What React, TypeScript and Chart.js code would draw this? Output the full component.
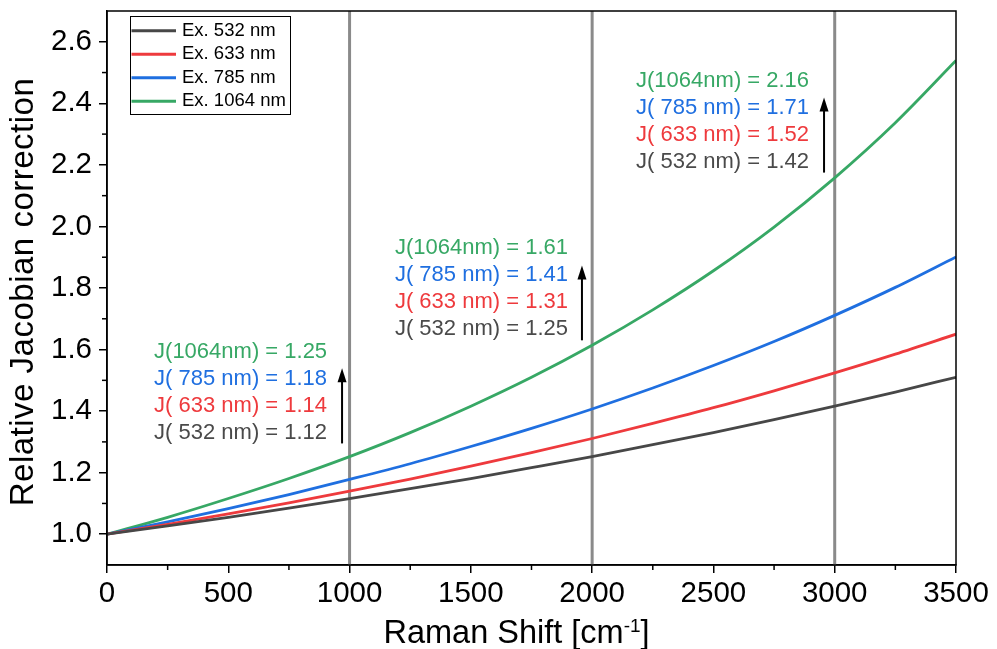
import React, { useEffect, useRef } from "react";
import { Chart, registerables } from "chart.js";

Chart.register(...registerables);

// ---- data ----
const ramanShift = [0, 250, 500, 750, 1000, 1250, 1500, 1750, 2000, 2250, 2500, 2750, 3000, 3250, 3500];
const j532 = [1.0, 1.027, 1.055, 1.085, 1.116, 1.148, 1.181, 1.216, 1.252, 1.291, 1.330, 1.372, 1.416, 1.462, 1.510];
const j633 = [1.0, 1.032, 1.066, 1.102, 1.140, 1.179, 1.221, 1.265, 1.311, 1.360, 1.411, 1.466, 1.524, 1.585, 1.650];
const j785 = [1.0, 1.040, 1.083, 1.129, 1.178, 1.229, 1.285, 1.344, 1.407, 1.475, 1.548, 1.626, 1.711, 1.802, 1.901];
const j1064 = [1.0, 1.055, 1.116, 1.181, 1.252, 1.330, 1.416, 1.510, 1.614, 1.729, 1.856, 1.998, 2.158, 2.337, 2.539];

const seriesLabels = ["Ex. 532 nm", "Ex. 633 nm", "Ex. 785 nm", "Ex. 1064 nm"];
const seriesColors = ["#474747", "#ee3a3d", "#1f6fe0", "#37a865"];

const xTicks = [0, 500, 1000, 1500, 2000, 2500, 3000, 3500];
const xMinorTicks = [250, 750, 1250, 1750, 2250, 2750, 3250];
const yTicks = [1.0, 1.2, 1.4, 1.6, 1.8, 2.0, 2.2, 2.4, 2.6];
const yMinorTicks = [1.1, 1.3, 1.5, 1.7, 1.9, 2.1, 2.3, 2.5];
const markerLines = [1000, 2000, 3000];

const notes1000 = ["J(1064nm) = 1.25", "J( 785 nm) = 1.18", "J( 633 nm) = 1.14", "J( 532 nm) = 1.12"];
const notes2000 = ["J(1064nm) = 1.61", "J( 785 nm) = 1.41", "J( 633 nm) = 1.31", "J( 532 nm) = 1.25"];
const notes3000 = ["J(1064nm) = 2.16", "J( 785 nm) = 1.71", "J( 633 nm) = 1.52", "J( 532 nm) = 1.42"];
const noteColors = ["#37a865", "#1f6fe0", "#ee3a3d", "#4a4a4a"];

const xTitle = "Raman Shift [cm";
const xTitleSup = "-1";
const xTitleEnd = "]";
const yTitle = "Relative Jacobian correction";

const FONT = "'Liberation Sans', Arial, sans-serif";

// annotation placement (data coordinates of text start / arrow)
const noteBlocks = [
  { lines: notes1000, tx: 194, ty: 1.591, ax: 969, ay0: 1.295, ay1: 1.539 },
  { lines: notes2000, tx: 1187, ty: 1.929, ax: 1958, ay0: 1.63, ay1: 1.873 },
  { lines: notes3000, tx: 2181, ty: 2.474, ax: 2956, ay0: 2.175, ay1: 2.419 },
];

const decorPlugin = {
  id: "decor",
  beforeDatasetsDraw(chart: any) {
    const { ctx, chartArea: a, scales } = chart;
    const x = scales.x;
    ctx.save();
    ctx.strokeStyle = "#8a8a8a";
    ctx.lineWidth = 3;
    markerLines.forEach((v) => {
      const px = x.getPixelForValue(v);
      ctx.beginPath();
      ctx.moveTo(px, a.top);
      ctx.lineTo(px, a.bottom);
      ctx.stroke();
    });
    ctx.restore();
  },
  afterDraw(chart: any) {
    const { ctx, chartArea: a, scales } = chart;
    const x = scales.x;
    const y = scales.y;
    ctx.save();

    // frame
    ctx.strokeStyle = "#000";
    ctx.lineWidth = 1.5;
    ctx.strokeRect(a.left, a.top, a.right - a.left, a.bottom - a.top);

    // minor ticks
    ctx.lineWidth = 1.5;
    xMinorTicks.forEach((v) => {
      const px = x.getPixelForValue(v);
      ctx.beginPath();
      ctx.moveTo(px, a.bottom);
      ctx.lineTo(px, a.bottom + 5);
      ctx.stroke();
    });
    yMinorTicks.forEach((v) => {
      const py = y.getPixelForValue(v);
      ctx.beginPath();
      ctx.moveTo(a.left, py);
      ctx.lineTo(a.left - 5, py);
      ctx.stroke();
    });

    // legend
    const lx0 = a.left + 23;
    const ly0 = a.top + 5;
    ctx.lineWidth = 1;
    ctx.strokeStyle = "#000";
    ctx.strokeRect(lx0 + 0.5, ly0 + 0.5, 160, 98);
    ctx.font = `18.5px ${FONT}`;
    ctx.textBaseline = "middle";
    ctx.textAlign = "left";
    seriesLabels.forEach((lab, i) => {
      const ry = ly0 + 14.7 + i * 23.5;
      ctx.strokeStyle = seriesColors[i];
      ctx.lineWidth = 3;
      ctx.beginPath();
      ctx.moveTo(lx0 + 1.5, ry);
      ctx.lineTo(lx0 + 46, ry);
      ctx.stroke();
      ctx.fillStyle = "#000";
      ctx.fillText(lab, lx0 + 52, ry);
    });

    // notes + arrows
    ctx.font = `22px ${FONT}`;
    noteBlocks.forEach((b) => {
      const tx = x.getPixelForValue(b.tx);
      const ty = y.getPixelForValue(b.ty);
      b.lines.forEach((t, i) => {
        ctx.fillStyle = noteColors[i];
        ctx.fillText(t, tx, ty + i * 27);
      });
      const ax = x.getPixelForValue(b.ax);
      const ay0 = y.getPixelForValue(b.ay0);
      const ay1 = y.getPixelForValue(b.ay1);
      ctx.strokeStyle = "#000";
      ctx.lineWidth = 2;
      ctx.beginPath();
      ctx.moveTo(ax, ay0);
      ctx.lineTo(ax, ay1 + 10);
      ctx.stroke();
      ctx.fillStyle = "#000";
      ctx.beginPath();
      ctx.moveTo(ax, ay1);
      ctx.lineTo(ax - 4.5, ay1 + 14);
      ctx.lineTo(ax + 4.5, ay1 + 14);
      ctx.closePath();
      ctx.fill();
    });

    // x title
    ctx.fillStyle = "#000";
    ctx.textBaseline = "alphabetic";
    ctx.font = `32.5px ${FONT}`;
    const w1 = ctx.measureText(xTitle).width;
    const w3 = ctx.measureText(xTitleEnd).width;
    ctx.font = `19px ${FONT}`;
    const w2 = ctx.measureText(xTitleSup).width;
    const total = w1 + w2 + w3;
    const cx = (a.left + a.right) / 2 - 15;
    let sx = cx - total / 2;
    const base = 643;
    ctx.font = `32.5px ${FONT}`;
    ctx.fillText(xTitle, sx, base);
    sx += w1;
    ctx.font = `19px ${FONT}`;
    ctx.fillText(xTitleSup, sx, base - 11);
    sx += w2;
    ctx.font = `32.5px ${FONT}`;
    ctx.fillText(xTitleEnd, sx, base);

    // y title
    (ctx as any).letterSpacing = "0.5px";
    ctx.translate(23.5, (a.top + a.bottom) / 2 + 4);
    ctx.rotate(-Math.PI / 2);
    ctx.textAlign = "center";
    ctx.textBaseline = "middle";
    ctx.font = `33px ${FONT}`;
    ctx.fillText(yTitle, 0, 0);
    ctx.restore();
  },
};

export default function App() {
  const ref = useRef<HTMLCanvasElement | null>(null);

  useEffect(() => {
    if (!ref.current) return;
    const series = [j532, j633, j785, j1064];
    const chart = new Chart(ref.current, {
      type: "line",
      data: {
        datasets: series.map((vals, i) => ({
          label: seriesLabels[i],
          data: ramanShift.map((r, k) => ({ x: r, y: vals[k] })),
          borderColor: seriesColors[i],
          backgroundColor: seriesColors[i],
          borderWidth: 2.8,
          pointRadius: 0,
          cubicInterpolationMode: "monotone" as const,
          fill: false,
        })),
      },
      options: {
        responsive: false,
        animation: false,
        devicePixelRatio: 1,
        layout: { padding: { top: 11, right: 41, left: 0, bottom: 0 } },
        plugins: { legend: { display: false }, tooltip: { enabled: false } },
        scales: {
          x: {
            type: "linear",
            min: 0,
            max: 3500,
            afterBuildTicks: (s: any) => {
              s.ticks = xTicks.map((v) => ({ value: v }));
            },
            afterFit: (s: any) => {
              s.height = 84;
              s.paddingLeft = 0;
              s.paddingRight = 0;
            },
            ticks: {
              autoSkip: false,
              maxRotation: 0,
              padding: 3,
              color: "#000",
              font: { family: FONT, size: 29.5 },
              callback: (v: any) => String(v),
            },
            grid: {
              drawOnChartArea: false,
              drawTicks: true,
              tickLength: 8,
              color: "#000",
              lineWidth: 1.5,
            },
            border: { display: true, color: "#000", width: 1.5 },
          },
          y: {
            type: "linear",
            min: 0.9,
            max: 2.7,
            afterBuildTicks: (s: any) => {
              s.ticks = yTicks.map((v) => ({ value: v }));
            },
            afterFit: (s: any) => {
              s.width = 107;
              s.paddingTop = 0;
              s.paddingBottom = 0;
            },
            ticks: {
              autoSkip: false,
              padding: 7,
              color: "#000",
              font: { family: FONT, size: 29.5 },
              callback: (v: any) => Number(v).toFixed(1),
            },
            grid: {
              drawOnChartArea: false,
              drawTicks: true,
              tickLength: 8,
              color: "#000",
              lineWidth: 1.5,
            },
            border: { display: true, color: "#000", width: 1.5 },
          },
        },
      },
      plugins: [decorPlugin],
    });
    return () => chart.destroy();
  }, []);

  return (
    <div style={{ position: "absolute", left: 0, top: 0, width: 997, height: 649, background: "#fff" }}>
      <canvas ref={ref} width={997} height={649} style={{ width: 997, height: 649 }} />
    </div>
  );
}
